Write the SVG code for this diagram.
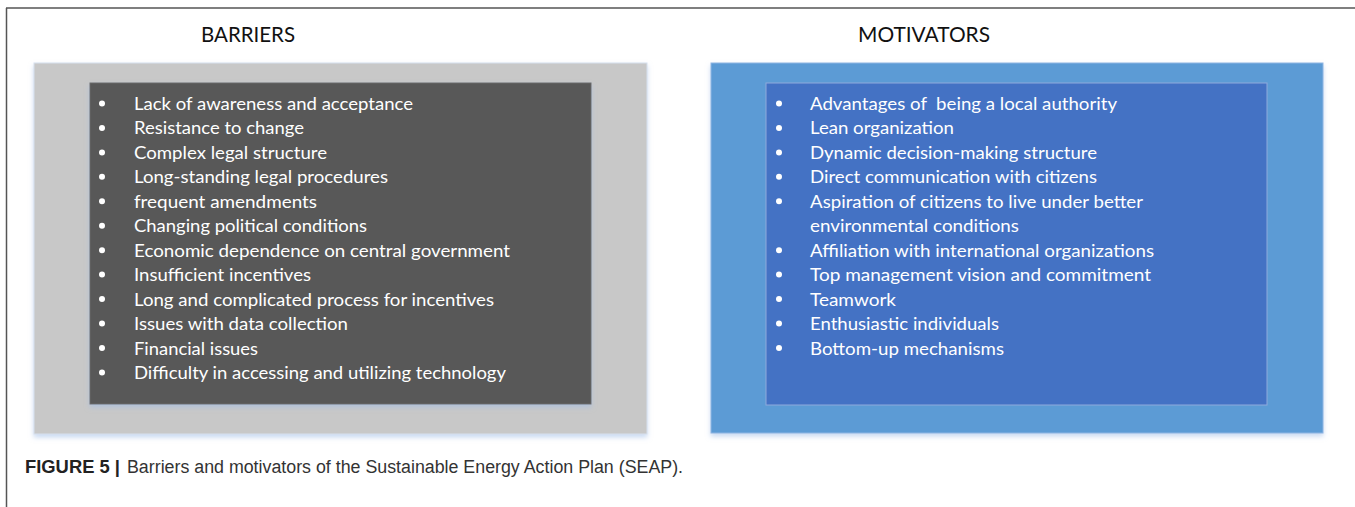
<svg xmlns="http://www.w3.org/2000/svg" width="1355" height="507" viewBox="0 0 1355 507">
  <defs>
    <filter id="soft-shadow" x="-5%" y="-5%" width="110%" height="115%">
      <feDropShadow dx="0" dy="3" stdDeviation="2.5" flood-color="#9fbce6" flood-opacity="0.55"/>
    </filter>
    <style>
      .title { font-family: Lato, "Open Sans", sans-serif; font-size: 21px; fill: #111; }
      .item { font-family: Lato, "Open Sans", sans-serif; font-size: 18px; fill: #ffffff; }
      .bullet { fill: #ffffff; }
      .caption { font-family: "Liberation Sans", Arial, sans-serif; font-size: 18px; fill: #333; }
      .caption-bold { font-weight: bold; fill: #222; }
    </style>
  </defs>

  <rect width="1355" height="507" fill="#ffffff"/>

  <!-- frame lines -->
  <g id="frame" stroke="#555" stroke-width="1.5" fill="none">
    <line x1="6" y1="8" x2="1355" y2="8"/>
    <line x1="6.5" y1="8" x2="6.5" y2="507"/>
  </g>

  <g id="connectors"/>

  <!-- barriers panel -->
  <g id="barriers">
    <text class="title" x="201" y="42" textLength="94" lengthAdjust="spacingAndGlyphs">BARRIERS</text>
    <rect x="34" y="63" width="613" height="371" fill="#c8c8c8" stroke="#d6e0ee" stroke-width="1" filter="url(#soft-shadow)"/>
    <rect x="90" y="83" width="501" height="321" fill="#595959" stroke="#6a6a6a" stroke-width="1" filter="url(#soft-shadow)"/>
    <g class="bullet">
      <circle cx="102" cy="103.5" r="3"/>
      <circle cx="102" cy="128" r="3"/>
      <circle cx="102" cy="152.4" r="3"/>
      <circle cx="102" cy="176.8" r="3"/>
      <circle cx="102" cy="201.3" r="3"/>
      <circle cx="102" cy="225.7" r="3"/>
      <circle cx="102" cy="250.2" r="3"/>
      <circle cx="102" cy="274.6" r="3"/>
      <circle cx="102" cy="299.1" r="3"/>
      <circle cx="102" cy="323.5" r="3"/>
      <circle cx="102" cy="348" r="3"/>
      <circle cx="102" cy="372.4" r="3"/>
    </g>
    <g class="item">
      <text x="134" y="110" textLength="279" lengthAdjust="spacingAndGlyphs">Lack of awareness and acceptance</text>
      <text x="134" y="134.4" textLength="170" lengthAdjust="spacingAndGlyphs">Resistance to change</text>
      <text x="134" y="158.9" textLength="193" lengthAdjust="spacingAndGlyphs">Complex legal structure</text>
      <text x="134" y="183.3" textLength="254" lengthAdjust="spacingAndGlyphs">Long-standing legal procedures</text>
      <text x="134" y="207.8" textLength="183" lengthAdjust="spacingAndGlyphs">frequent amendments</text>
      <text x="134" y="232.2" textLength="233" lengthAdjust="spacingAndGlyphs">Changing political conditions</text>
      <text x="134" y="256.7" textLength="376" lengthAdjust="spacingAndGlyphs">Economic dependence on central government</text>
      <text x="134" y="281.1" textLength="177" lengthAdjust="spacingAndGlyphs">Insufficient incentives</text>
      <text x="134" y="305.6" textLength="360" lengthAdjust="spacingAndGlyphs">Long and complicated process for incentives</text>
      <text x="134" y="330" textLength="214" lengthAdjust="spacingAndGlyphs">Issues with data collection</text>
      <text x="134" y="354.5" textLength="124" lengthAdjust="spacingAndGlyphs">Financial issues</text>
      <text x="134" y="378.9" textLength="372" lengthAdjust="spacingAndGlyphs">Difficulty in accessing and utilizing technology</text>
    </g>
  </g>

  <!-- motivators panel -->
  <g id="motivators">
    <text class="title" x="858" y="42" textLength="132" lengthAdjust="spacingAndGlyphs">MOTIVATORS</text>
    <rect x="711" y="63" width="612" height="370" fill="#5b9bd5" stroke="#8fb5e3" stroke-width="1" filter="url(#soft-shadow)"/>
    <rect x="766" y="83" width="501" height="322" fill="#4472c4" stroke="#8faadc" stroke-width="1"/>
    <g class="bullet">
      <circle cx="779" cy="103.5" r="3"/>
      <circle cx="779" cy="128" r="3"/>
      <circle cx="779" cy="152.4" r="3"/>
      <circle cx="779" cy="176.8" r="3"/>
      <circle cx="779" cy="201.3" r="3"/>
      <circle cx="779" cy="250.2" r="3"/>
      <circle cx="779" cy="274.6" r="3"/>
      <circle cx="779" cy="299.1" r="3"/>
      <circle cx="779" cy="323.5" r="3"/>
      <circle cx="779" cy="348" r="3"/>
    </g>
    <g class="item">
      <text x="810" y="110" textLength="307" lengthAdjust="spacingAndGlyphs" xml:space="preserve">Advantages of  being a local authority</text>
      <text x="810" y="134.4" textLength="144" lengthAdjust="spacingAndGlyphs">Lean organization</text>
      <text x="810" y="158.9" textLength="287" lengthAdjust="spacingAndGlyphs">Dynamic decision-making structure</text>
      <text x="810" y="183.3" textLength="287" lengthAdjust="spacingAndGlyphs">Direct communication with citizens</text>
      <text x="810" y="207.8" textLength="333" lengthAdjust="spacingAndGlyphs">Aspiration of citizens to live under better</text>
      <text x="810" y="232.2" textLength="209" lengthAdjust="spacingAndGlyphs">environmental conditions</text>
      <text x="810" y="256.7" textLength="344" lengthAdjust="spacingAndGlyphs">Affiliation with international organizations</text>
      <text x="810" y="281.1" textLength="341" lengthAdjust="spacingAndGlyphs">Top management vision and commitment</text>
      <text x="810" y="305.6" textLength="86" lengthAdjust="spacingAndGlyphs">Teamwork</text>
      <text x="810" y="330" textLength="189" lengthAdjust="spacingAndGlyphs">Enthusiastic individuals</text>
      <text x="810" y="354.5" textLength="194" lengthAdjust="spacingAndGlyphs">Bottom-up mechanisms</text>
    </g>
  </g>

  <!-- figure caption -->
  <g id="caption" class="caption">
    <text class="caption-bold" x="25" y="472.5" textLength="95" lengthAdjust="spacingAndGlyphs">FIGURE 5 |</text>
    <text x="127" y="472.5" textLength="556" lengthAdjust="spacingAndGlyphs">Barriers and motivators of the Sustainable Energy Action Plan (SEAP).</text>
  </g>
</svg>
